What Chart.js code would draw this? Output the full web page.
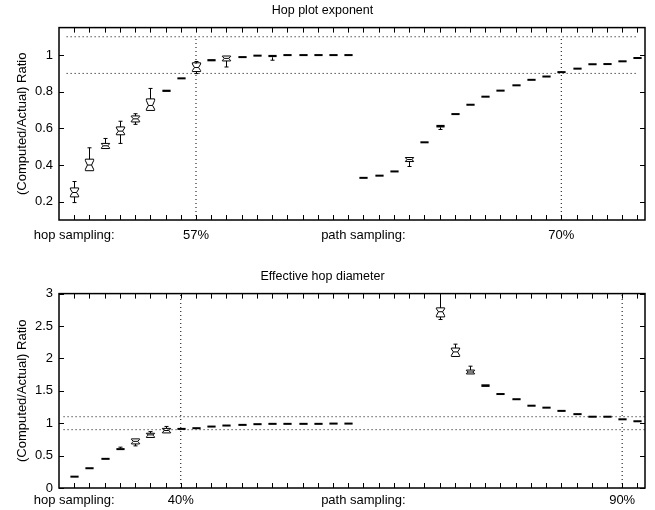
<!DOCTYPE html>
<html>
<head>
<meta charset="utf-8">
<script src="https://cdn.jsdelivr.net/npm/chart.js@4.4.1/dist/chart.umd.min.js"></script>
<style>
  body { margin: 0; background: #fff; }
  .wrap { position: absolute; left: 0; width: 655px; height: 255px; }
</style>
</head>
<body>
<div class="wrap" style="top:0"><canvas id="top" width="655" height="255"></canvas></div>
<div class="wrap" style="top:255px"><canvas id="bottom" width="655" height="255"></canvas></div>
<script>
// sample slots on the x axis (hop sampling 1-19, path sampling 20-38)
const slots = [1, 2, 3, 4, 5, 6, 7, 8, 9, 10, 11, 12, 13, 14, 15, 16, 17, 18, 19,
  20, 21, 22, 23, 24, 25, 26, 27, 28, 29, 30, 31, 32, 33, 34, 35, 36, 37, 38];

// --- Hop plot exponent ---
const top_label_pos = [1, 9, 20, 33];
const top_label_text = ['hop sampling:', '57%', 'path sampling:', '70%'];
const top_y_ticks = [0.2, 0.4, 0.6, 0.8, 1];
const top_med = [0.25, 0.40, 0.505, 0.585, 0.652, 0.725, 0.805, 0.873, 0.932, 0.972, 0.982, 0.989, 0.997, 0.995, 1.0, 1.0, 1.0, 1.0, 1.0,
  0.330, 0.342, 0.365, 0.430, 0.524, 0.612, 0.678, 0.729, 0.773, 0.806, 0.835, 0.865, 0.883, 0.907, 0.926, 0.950, 0.951, 0.966, 0.984];
const top_q1 = [0.226, 0.369, 0.49, 0.565, 0.635, 0.698, 0.799, 0.868, 0.91, 0.966, 0.968, 0.986, 0.997, 0.988, 1.0, 1.0, 1.0, 1.0, 1.0,
  0.329, 0.340, 0.362, 0.419, 0.520, 0.606, 0.674, 0.725, 0.771, 0.805, 0.834, 0.864, 0.882, 0.905, 0.925, 0.949, 0.950, 0.965, 0.983];
const top_q3 = [0.275, 0.432, 0.518, 0.608, 0.668, 0.761, 0.811, 0.878, 0.958, 0.978, 0.995, 0.993, 0.997, 1.0, 1.0, 1.0, 1.0, 1.0, 1.0,
  0.331, 0.344, 0.368, 0.441, 0.528, 0.620, 0.682, 0.733, 0.775, 0.807, 0.836, 0.866, 0.884, 0.909, 0.927, 0.951, 0.952, 0.967, 0.985];
const top_lo = [0.195, 0.369, 0.488, 0.518, 0.622, 0.698, 0.797, 0.866, 0.899, 0.964, 0.935, 0.985, 0.997, 0.972, 1.0, 1.0, 1.0, 1.0, 1.0,
  0.329, 0.339, 0.360, 0.392, 0.516, 0.594, 0.670, 0.722, 0.766, 0.805, 0.834, 0.864, 0.882, 0.905, 0.925, 0.949, 0.950, 0.965, 0.983];
const top_hi = [0.31, 0.494, 0.545, 0.639, 0.68, 0.818, 0.812, 0.879, 0.965, 0.979, 0.998, 0.994, 0.997, 1.0, 1.0, 1.0, 1.0, 1.0, 1.0,
  0.331, 0.344, 0.369, 0.445, 0.529, 0.621, 0.683, 0.734, 0.776, 0.807, 0.836, 0.866, 0.884, 0.909, 0.927, 0.951, 0.952, 0.967, 0.985];

// --- Effective hop diameter ---
const bot_label_pos = [1, 8, 20, 37];
const bot_label_text = ['hop sampling:', '40%', 'path sampling:', '90%'];
const bot_y_ticks = [0, 0.5, 1, 1.5, 2, 2.5, 3];
const bot_med = [0.175, 0.305, 0.45, 0.60, 0.72, 0.82, 0.887, 0.912, 0.923, 0.948, 0.964, 0.974, 0.985, 0.99, 0.99, 0.99, 0.99, 0.994, 0.994,
  null, null, null, null, null, 2.72, 2.10, 1.79, 1.58, 1.45, 1.37, 1.27, 1.24, 1.19, 1.14, 1.10, 1.10, 1.06, 1.03];
const bot_q1 = [0.17, 0.29, 0.44, 0.59, 0.68, 0.78, 0.85, 0.905, 0.915, 0.94, 0.958, 0.97, 0.982, 0.988, 0.988, 0.988, 0.988, 0.992, 0.992,
  null, null, null, null, null, 2.64, 2.03, 1.76, 1.56, 1.44, 1.36, 1.26, 1.23, 1.18, 1.13, 1.095, 1.095, 1.055, 1.025];
const bot_q3 = [0.18, 0.32, 0.46, 0.61, 0.758, 0.845, 0.92, 0.92, 0.93, 0.956, 0.97, 0.978, 0.988, 0.992, 0.992, 0.992, 0.992, 0.996, 0.996,
  null, null, null, null, null, 2.78, 2.16, 1.82, 1.60, 1.46, 1.38, 1.28, 1.25, 1.20, 1.15, 1.105, 1.105, 1.065, 1.035];
const bot_lo = [0.17, 0.285, 0.435, 0.585, 0.65, 0.775, 0.835, 0.90, 0.912, 0.935, 0.955, 0.968, 0.98, 0.985, 0.985, 0.985, 0.985, 0.99, 0.99,
  null, null, null, null, null, 2.60, 2.03, 1.76, 1.55, 1.44, 1.36, 1.26, 1.23, 1.18, 1.13, 1.095, 1.095, 1.055, 1.025];
const bot_hi = [0.18, 0.325, 0.465, 0.63, 0.77, 0.87, 0.95, 0.925, 0.935, 0.96, 0.972, 0.98, 0.99, 0.995, 0.995, 0.995, 0.995, 0.998, 0.998,
  null, null, null, null, null, 3.3, 2.22, 1.88, 1.61, 1.46, 1.38, 1.28, 1.25, 1.20, 1.15, 1.105, 1.105, 1.065, 1.035];

Chart.defaults.font.family = "'Liberation Sans', Arial, sans-serif";
Chart.defaults.font.size = 13;
Chart.defaults.color = '#000';

// notched boxes, whiskers and median marks
const box_plugin = {
  id: 'boxes',
  afterDatasetsDraw(chart) {
    const {ctx, chartArea: a, scales: {x, y}} = chart;
    const half = (x.getPixelForValue(1) - x.getPixelForValue(0)) * 0.27;
    ctx.save();
    ctx.beginPath();
    ctx.rect(a.left, a.top, a.right - a.left, a.bottom - a.top);
    ctx.clip();
    ctx.strokeStyle = '#000';
    ctx.fillStyle = '#000';
    ctx.lineWidth = 1;
    chart.data.datasets.forEach(ds => {
      if (!ds.boxes) return;
      ds.data.forEach(d => {
        if (d.y == null) return;
        const px = Math.round(x.getPixelForValue(d.x)) + 0.5;
        const pm = y.getPixelForValue(d.y);
        const p1 = y.getPixelForValue(d.q1), p3 = y.getPixelForValue(d.q3);
        const plo = y.getPixelForValue(d.lo), phi = y.getPixelForValue(d.hi);
        ctx.beginPath();
        if (plo - p1 > 1) {
          ctx.moveTo(px, p1); ctx.lineTo(px, plo);
          ctx.moveTo(px - 2, plo); ctx.lineTo(px + 2, plo);
        }
        if (p3 - phi > 1) {
          ctx.moveTo(px, p3); ctx.lineTo(px, phi);
          ctx.moveTo(px - 2, phi); ctx.lineTo(px + 2, phi);
        }
        ctx.stroke();
        if (p1 - p3 < 3) {
          const h = Math.max(p1 - p3, 2);
          ctx.fillRect(px - half, pm - h / 2, half * 2, h);
          return;
        }
        const L = px - half, R = px + half, ins = half * 0.5;
        const nt = pm - (pm - p3) * 0.75, nb = pm + (p1 - pm) * 0.75;
        ctx.beginPath();
        ctx.moveTo(L, p3); ctx.lineTo(R, p3); ctx.lineTo(R, nt); ctx.lineTo(R - ins, pm);
        ctx.lineTo(R, nb); ctx.lineTo(R, p1); ctx.lineTo(L, p1); ctx.lineTo(L, nb);
        ctx.lineTo(L + ins, pm); ctx.lineTo(L, nt); ctx.closePath();
        ctx.stroke();
        ctx.beginPath();
        ctx.moveTo(L + ins, pm); ctx.lineTo(R - ins, pm);
        ctx.stroke();
      });
    });
    ctx.restore();
  }
};

// axes box with inward tick marks on all four sides
const frame_plugin = {
  id: 'frame',
  afterDraw(chart) {
    const {ctx, chartArea: a, scales: {x, y}} = chart;
    ctx.save();
    ctx.strokeStyle = '#000';
    ctx.lineWidth = 1;
    ctx.beginPath();
    x.ticks.forEach(t => {
      const p = Math.round(x.getPixelForValue(t.value)) + 0.5;
      ctx.moveTo(p, a.bottom); ctx.lineTo(p, a.bottom - 5);
      ctx.moveTo(p, a.top); ctx.lineTo(p, a.top + 5);
    });
    y.ticks.forEach(t => {
      const p = Math.round(y.getPixelForValue(t.value)) + 0.5;
      ctx.moveTo(a.left, p); ctx.lineTo(a.left + 5, p);
      ctx.moveTo(a.right, p); ctx.lineTo(a.right - 5, p);
    });
    ctx.stroke();
    ctx.lineWidth = 1.5;
    ctx.strokeRect(a.left, a.top, a.right - a.left, a.bottom - a.top);
    ctx.restore();
  }
};

function dotted(x0, y0, x1, y1) {
  return {
    type: 'scatter', showLine: true,
    data: [{x: x0, y: y0}, {x: x1, y: y1}],
    borderColor: '#000', borderWidth: 1, borderDash: [1, 3],
    pointRadius: 0,
  };
}

function makeChart(id, cfg) {
  const labels = {};
  cfg.label_pos.forEach((p, i) => { labels[p] = cfg.label_text[i]; });
  const boxes = {
    type: 'scatter', boxes: true, pointRadius: 0,
    data: slots.map((s, i) => ({x: s, y: cfg.med[i], q1: cfg.q1[i], q3: cfg.q3[i], lo: cfg.lo[i], hi: cfg.hi[i]})),
  };
  return new Chart(document.getElementById(id), {
    type: 'scatter',
    data: {datasets: [...cfg.lines, boxes]},
    plugins: [box_plugin, frame_plugin],
    options: {
      responsive: false,
      animation: false,
      layout: {padding: {left: 0, right: 10, top: 0, bottom: 0}},
      plugins: {
        legend: {display: false},
        tooltip: {enabled: false},
        title: {
          display: true, text: cfg.title,
          font: {size: 12.5, weight: 'normal'},
          padding: cfg.title_pad,
        },
      },
      scales: {
        x: {
          type: 'linear', min: 0, max: 38.5,
          grid: {display: false, drawTicks: false}, border: {display: false},
          afterBuildTicks: s => { s.ticks = slots.map(v => ({value: v})); },
          afterFit: s => { s.height = cfg.x_height; },
          ticks: {autoSkip: false, maxRotation: 0, padding: cfg.x_pad, callback: v => labels[v] || ''},
        },
        y: {
          min: cfg.y_min, max: cfg.y_max,
          grid: {display: false, drawTicks: false}, border: {display: false},
          afterBuildTicks: s => { s.ticks = cfg.y_ticks.map(v => ({value: v})); },
          afterFit: s => { s.width = 59; },
          ticks: {padding: 6, callback: v => String(v)},
          title: {display: true, text: '(Computed/Actual) Ratio', padding: {top: 15, bottom: 0}},
        },
      },
    },
  });
}

makeChart('top', {
  title: 'Hop plot exponent', title_pad: {top: 3.5, bottom: 9.1}, x_height: 35, x_pad: 8,
  y_min: 0.1, y_max: 1.15, y_ticks: top_y_ticks,
  label_pos: top_label_pos, label_text: top_label_text,
  med: top_med, q1: top_q1, q3: top_q3, lo: top_lo, hi: top_hi,
  lines: [dotted(0.5, 1.1, 38, 1.1), dotted(0.5, 0.9, 38, 0.9), dotted(9, 0.1, 9, 1.1), dotted(33, 0.1, 33, 1.1)],
});

makeChart('bottom', {
  title: 'Effective hop diameter', title_pad: {top: 14, bottom: 9.6}, x_height: 22, x_pad: 5,
  y_min: 0, y_max: 3, y_ticks: bot_y_ticks,
  label_pos: bot_label_pos, label_text: bot_label_text,
  med: bot_med, q1: bot_q1, q3: bot_q3, lo: bot_lo, hi: bot_hi,
  lines: [dotted(0.3, 1.1, 38.5, 1.1), dotted(0.3, 0.9, 38.5, 0.9), dotted(8, 0, 8, 3), dotted(37, 0, 37, 3)],
});
</script>
</body>
</html>
